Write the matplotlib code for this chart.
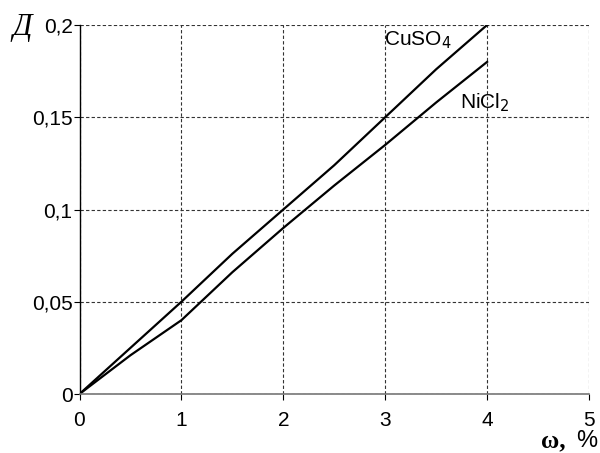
import numpy as np
import matplotlib.pyplot as plt

# concentration, % and optical density
w = [0, 0.5, 1, 1.5, 2, 2.5, 3, 3.5, 4]
d_cuso4 = [0, 0.025, 0.05, 0.076, 0.1, 0.124, 0.15, 0.176, 0.2]
d_nicl2 = [0, 0.021, 0.04, 0.066, 0.09, 0.113, 0.135, 0.158, 0.18]

xticks = [0, 1, 2, 3, 4, 5]
yticks = [0, 0.05, 0.1, 0.15, 0.2]
ylabels = ['0', '0,05', '0,1', '0,15', '0,2']

plt.rcParams['font.family'] = 'Liberation Sans'
plt.rcParams['xtick.direction'] = 'out'
plt.rcParams['ytick.direction'] = 'out'

fig = plt.figure(figsize=(6, 4.53), dpi=100)
ax = fig.add_axes([79.5 / 600, 1 - 394 / 453, 509.5 / 600, 369 / 453])

ax.plot(w, d_cuso4, color='black', linewidth=1.6)
ax.plot(w, d_nicl2, color='black', linewidth=1.6)

ax.set_xlim(0, 5)
ax.set_ylim(0, 0.2)
ax.set_xticks(xticks)
ax.set_xticklabels([str(t) for t in xticks], fontsize=15)
ax.set_yticks(yticks)
ax.set_yticklabels(ylabels, fontsize=15)
ax.tick_params(length=4, width=0.8)
ax.tick_params(axis='x', pad=8)
ax.tick_params(axis='y', pad=1)

ax.grid(True, linestyle=(0, (3, 2)), color='#333333', linewidth=0.8)
for s in ['top', 'right']:
    ax.spines[s].set_visible(False)
ax.spines['left'].set_color('black')
ax.spines['left'].set_linewidth(1.0)
ax.spines['bottom'].set_color('#777777')
ax.spines['bottom'].set_linewidth(1.2)
ax.set_axisbelow(True)

ax.text(2.99, 0.192, 'CuSO$_4$', fontsize=15, ha='left', va='center')
ax.text(3.73, 0.158, 'NiCl$_2$', fontsize=15, ha='left', va='center')

fig.text(12 / 600, 1 - 28 / 453, 'Д', fontsize=22, family='Liberation Serif',
         style='italic', ha='left', va='center')
fig.text(541 / 600, 1 - 447 / 453, 'ω,', fontsize=18, family='Liberation Serif',
         weight='bold', ha='left', va='baseline')
fig.text(597 / 600, 1 - 447 / 453, '%', fontsize=17, ha='right', va='baseline')

fig.savefig('out.png', dpi=100)
